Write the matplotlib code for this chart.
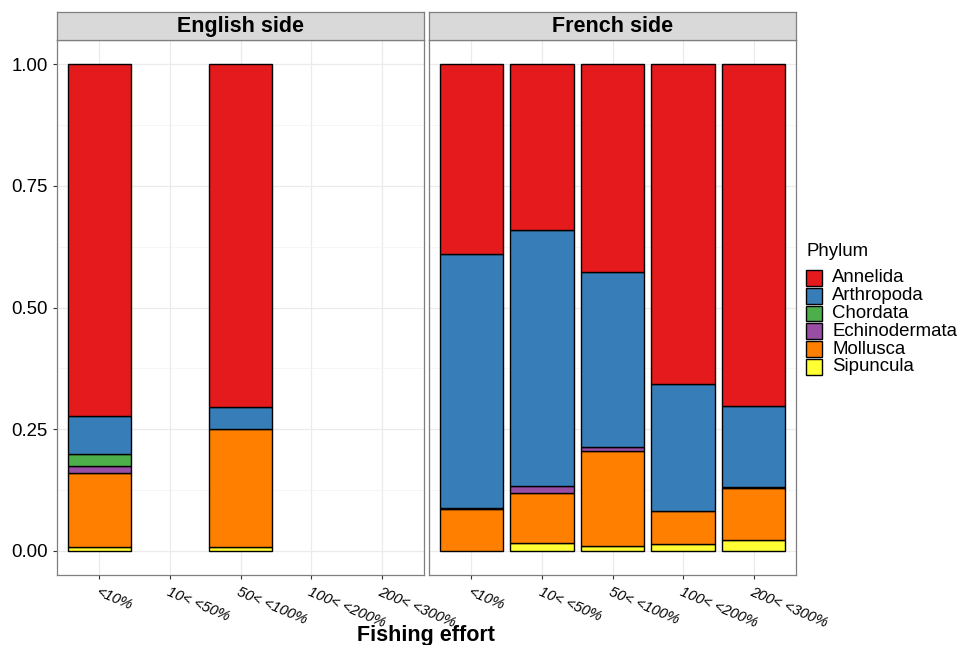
import numpy as np
import matplotlib as mpl
mpl.use('Agg')
import matplotlib.pyplot as plt
from matplotlib.patches import Rectangle

plt.rcParams['font.family'] = ['Liberation Sans', 'DejaVu Sans']

efforts = ['<10%', '10< <50%', '50< <100%', '100< <200%', '200< <300%']
sides = ['English side', 'French side']
phyla = ['Annelida', 'Arthropoda', 'Chordata', 'Echinodermata', 'Mollusca', 'Sipuncula']
colors = ['#E41A1C', '#377EB8', '#4DAF4A', '#984EA3', '#FF7F00', '#FFFF33']

# proportions per effort class, nan = no sample
nan = np.nan
english_annelida = [0.724, nan, 0.704, nan, nan]
english_arthropoda = [0.077, nan, 0.045, nan, nan]
english_chordata = [0.024, nan, 0.0, nan, nan]
english_echinodermata = [0.016, nan, 0.0, nan, nan]
english_mollusca = [0.151, nan, 0.243, nan, nan]
english_sipuncula = [0.008, nan, 0.008, nan, nan]

french_annelida = [0.389, 0.340, 0.428, 0.658, 0.703]
french_arthropoda = [0.524, 0.528, 0.358, 0.261, 0.166]
french_chordata = [0.002, 0.0, 0.0, 0.0, 0.0]
french_echinodermata = [0.0, 0.014, 0.009, 0.0, 0.003]
french_mollusca = [0.085, 0.102, 0.196, 0.068, 0.106]
french_sipuncula = [0.0, 0.016, 0.009, 0.013, 0.022]

data = {
    'English side': [english_annelida, english_arthropoda, english_chordata,
                     english_echinodermata, english_mollusca, english_sipuncula],
    'French side': [french_annelida, french_arthropoda, french_chordata,
                    french_echinodermata, french_mollusca, french_sipuncula],
}

W, H = 963, 645
fig = plt.figure(figsize=(W / 100, H / 100), dpi=100)

def fx(px):
    return px / W

def fy(py):
    return 1 - py / H

panels = [(57, 424), (429, 796)]
top, bottom = 40, 575
x = np.arange(len(efforts))
for (l, r), side in zip(panels, sides):
    ax = fig.add_axes([fx(l), fy(bottom), fx(r - l), fy(top) - fy(bottom)])
    vals = np.array(data[side], dtype=float)
    base = np.zeros(len(efforts))
    # stack from bottom (last phylum) up to the first
    for i in range(len(phyla) - 1, -1, -1):
        h = vals[i]
        mask = ~np.isnan(h) & (h > 0)
        ax.bar(x[mask], h[mask], bottom=base[mask], width=0.9, color=colors[i],
               edgecolor='black', linewidth=1.0, zorder=3)
        base = base + np.nan_to_num(h)
    ax.set_xlim(-0.6, len(efforts) - 0.4)
    ax.set_ylim(-0.05, 1.05)
    ax.set_yticks([0, 0.25, 0.5, 0.75, 1.0])
    ax.set_yticks([0.125, 0.375, 0.625, 0.875], minor=True)
    ax.set_xticks(x)
    ax.grid(which='major', color='#EBEBEB', linewidth=0.9, zorder=0)
    ax.grid(which='minor', axis='y', color='#F3F3F3', linewidth=0.5, zorder=0)
    for s in ax.spines.values():
        s.set_color('#7F7F7F')
        s.set_linewidth(0.9)
    ax.tick_params(which='minor', length=0)
    ax.tick_params(axis='both', which='major', length=3, color='#333333',
                   labelsize=13.4, labelcolor='black')
    ax.set_xticklabels(efforts, rotation=-23, ha='left', va='top',
                       rotation_mode='anchor', fontsize=10.5, style='italic')
    ax.tick_params(axis='x', pad=4)
    if side == 'French side':
        ax.tick_params(axis='y', labelleft=False, length=0)
    else:
        ax.set_yticklabels(['0.00', '0.25', '0.50', '0.75', '1.00'])

    # facet strip
    sax = fig.add_axes([fx(l), fy(top), fx(r - l), fy(12) - fy(top)])
    sax.set_facecolor('#D9D9D9')
    sax.set_xticks([])
    sax.set_yticks([])
    for s in sax.spines.values():
        s.set_color('#7F7F7F')
        s.set_linewidth(0.9)
    sax.text(0.5, 0.48, side, ha='center', va='center', fontsize=15.5,
             fontweight='bold', transform=sax.transAxes)

fig.text(fx(426), fy(635), 'Fishing effort', ha='center', va='center',
         fontsize=15.5, fontweight='bold')

# legend drawn by hand to match key size and spacing
fig.text(fx(806), fy(252), 'Phylum', ha='left', va='center', fontsize=13.4)
key_top, key_h = 269, 17.8
for i, (name, c) in enumerate(zip(phyla, colors)):
    y0 = key_top + i * key_h
    fig.patches.append(Rectangle((fx(806), fy(y0 + key_h - 1)), fx(16), (key_h - 2) / H,
                                 facecolor=c, edgecolor='black', linewidth=1.0,
                                 transform=fig.transFigure))
    fig.text(fx(832), fy(y0 + key_h / 2), name, ha='left', va='center', fontsize=13.4)

fig.savefig('out.png', dpi=100)
